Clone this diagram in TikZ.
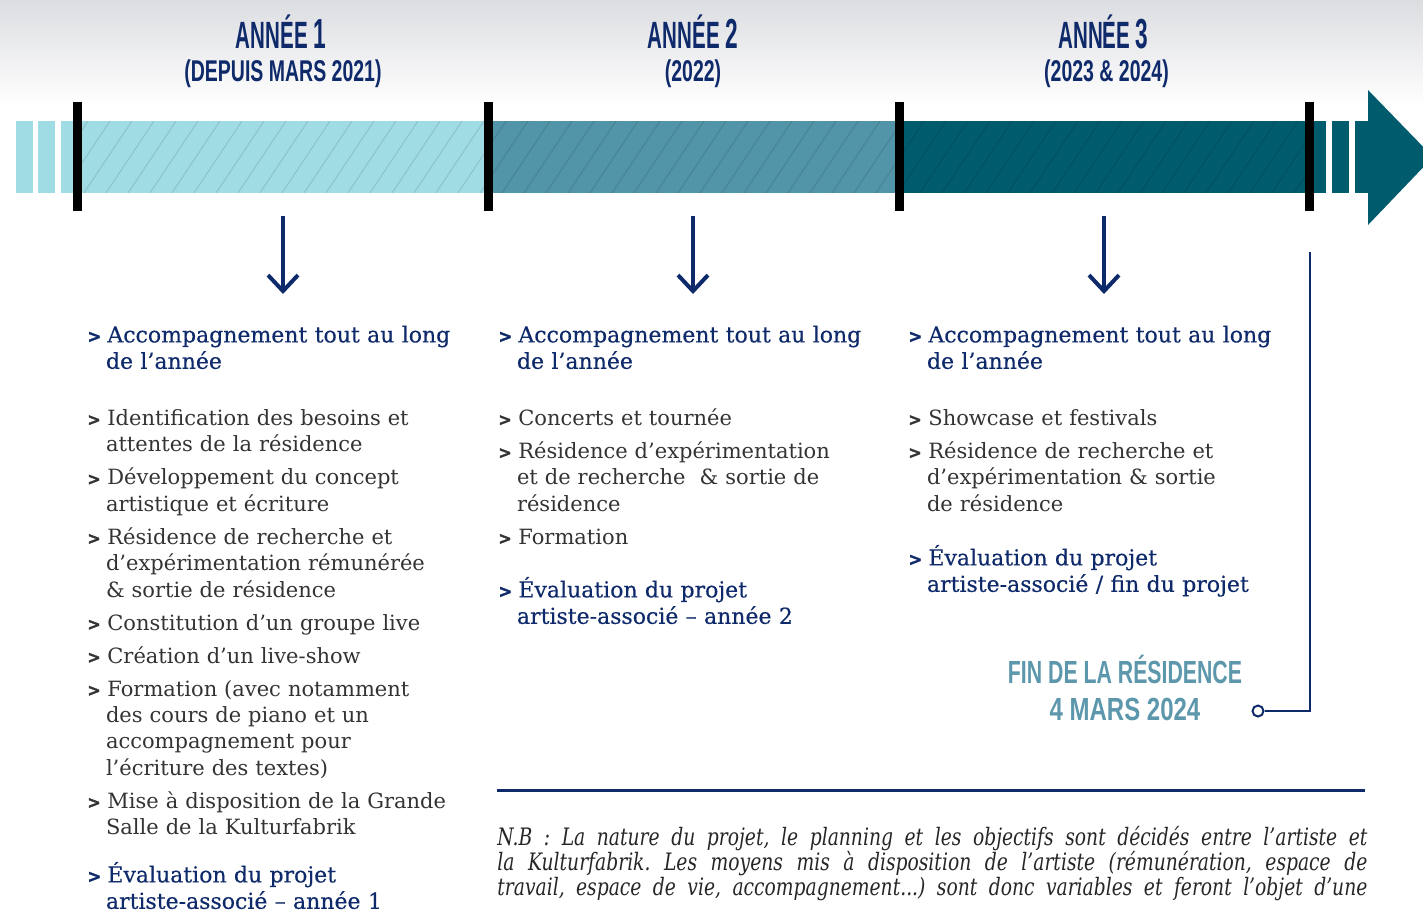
\documentclass[tikz,border=0pt]{standalone}
\usepackage{fontspec}
\setmainfont{DejaVu Serif}
\newfontfamily\accfont[FakeBold=0.35]{DejaVu Serif}
\newfontfamily\condfont[FakeStretch=0.54]{Liberation Sans}
\newfontfamily\condsub[FakeStretch=0.65]{Liberation Sans}
\newfontfamily\condfin[FakeStretch=0.665]{Liberation Sans}
\newfontfamily\conddate[FakeStretch=0.75]{Liberation Sans}
\newfontfamily\nbfont[FakeStretch=0.78]{DejaVu Serif}
\newfontfamily\gtfont[FakeBold=1.6]{DejaVu Sans}
\usepackage{xcolor}
\usetikzlibrary{positioning,arrows.meta}

\definecolor{navy}{HTML}{0F2A6A}
\definecolor{bodygray}{HTML}{333333}
\definecolor{cyanbar}{HTML}{A0DCE4}
\definecolor{midteal}{HTML}{5294A8}
\definecolor{darkteal}{HTML}{005B6D}
\definecolor{fingray}{HTML}{5C97AC}
\definecolor{bgtop}{HTML}{DCDDE1}

\newcommand\itm[1]{\par\noindent\hangindent=9.3pt\hangafter=1\makebox[10pt][l]{\scalebox{0.76}[0.8]{\gtfont\bfseries >}}#1\par\vspace{3.3pt}}

\tikzset{
  yr/.style={anchor=base, inner sep=0, text=navy, font=\condfont\bfseries\fontsize{19}{19}\selectfont},
  yrsub/.style={anchor=base, inner sep=0, text=navy, font=\condsub\bfseries\fontsize{15}{15}\selectfont},
  acc/.style={anchor=base west, inner sep=0, yshift=9pt, text width=200pt, align=left, text=navy, font=\accfont\fontsize{11}{13.2}\selectfont},
  lst/.style={anchor=base west, inner sep=0, yshift=9pt, text width=200pt, align=left, text=bodygray, font=\fontsize{10.5}{13.2}\selectfont},
  fin/.style={anchor=base, inner sep=0, text=fingray, font=\bfseries\fontsize{16}{16}\selectfont},
  sep/.style={line width=4.5pt, black},
  hatch/.style={black, opacity=0.1, line width=0.6pt},
  downarr/.style={navy, line width=2pt, -{Straight Barb[length=8pt,width=15pt]}},
  endline/.style={navy, line width=1pt},
  ring/.style={circle, draw=navy, line width=1pt, fill=white, minimum size=5.5pt, inner sep=0}
}

\begin{document}
\frenchspacing
\begin{tikzpicture}[x=0.5pt, y=-0.5pt]
\useasboundingbox (0,0) rectangle (1423,911);
\shade[top color=bgtop, bottom color=white] (0,0) rectangle (1423,105);

\node[yr] (yr1) at (281,48.5) {ANNÉE {\fontsize{21}{21}\selectfont 1}};
\node[yrsub] (yr1d) at (283,81) {(DEPUIS MARS 2021)};
\node[yr] (yr2) at (693,48.5) {ANNÉE {\fontsize{21}{21}\selectfont 2}};
\node[yrsub] (yr2d) at (693,81) {(2022)};
\node[yr] (yr3) at (1103.5,48.5) {ANNÉE {\fontsize{21}{21}\selectfont 3}};
\node[yrsub] (yr3d) at (1106.5,81) {(2023 \& 2024)};

\fill[cyanbar] (16,121) rectangle (33,193);
\fill[cyanbar] (38,121) rectangle (55,193);
\fill[cyanbar] (61,121) rectangle (488,193);
\fill[midteal] (488,121) rectangle (899,193);
\fill[darkteal] (899,121) rectangle (1326,193);
\fill[darkteal] (1331.6,121) rectangle (1348.7,193);
\fill[darkteal] (1354.7,121) rectangle (1369,193);
\fill[darkteal] (1368,90) -- (1433,157) -- (1368,225) -- cycle;
\begin{scope}
  \clip (78,121) rectangle (1309,193);
  \foreach \i in {0,...,58}
    \draw[hatch] ({40+\i*22},193) -- ++(48,-72);
\end{scope}
\foreach \x in {77.5,488,899,1309.5}
  \draw[sep] (\x,102) -- (\x,211);

\coordinate (a1) at (283,216);
\coordinate (b1) at (283,294);
\coordinate (a2) at (693,216);
\coordinate (b2) at (693,294);
\coordinate (a3) at (1104,216);
\coordinate (b3) at (1104,294);
\draw[downarr] (a1) -- (b1);
\draw[downarr] (a2) -- (b2);
\draw[downarr] (a3) -- (b3);

\node[acc] (acc1) at (87,334) {\itm{Accompagnement tout au long\newline de l’année}};
\node[lst] (lst1) at (87,417) {%
  \itm{Identification des besoins et\newline attentes de la résidence}%
  \itm{Développement du concept\newline artistique et écriture}%
  \itm{Résidence de recherche et\newline d’expérimentation rémunérée\newline \& sortie de résidence}%
  \itm{Constitution d’un groupe live}%
  \itm{Création d’un live-show}%
  \itm{Formation (avec notamment\newline des cours de piano et un\newline accompagnement pour\newline l’écriture des textes)}%
  \itm{Mise à disposition de la Grande\newline Salle de la Kulturfabrik}};
\node[acc] (ev1) at (87,874) {\itm{Évaluation du projet\newline artiste-associé – année 1}};

\node[acc] (acc2) at (498,334) {\itm{Accompagnement tout au long\newline de l’année}};
\node[lst] (lst2) at (498,417) {%
  \itm{Concerts et tournée}%
  \itm{Résidence d’expérimentation\newline et de recherche ~\& sortie de\newline résidence}%
  \itm{Formation}};
\node[acc] (ev2) at (498,589) {\itm{Évaluation du projet\newline artiste-associé – année 2}};

\node[acc] (acc3) at (908,334) {\itm{Accompagnement tout au long\newline de l’année}};
\node[lst] (lst3) at (908,417) {%
  \itm{Showcase et festivals}%
  \itm{Résidence de recherche et\newline d’expérimentation \& sortie\newline de résidence}};
\node[acc] (ev3) at (908,557) {\itm{Évaluation du projet\newline artiste-associé / fin du projet}};

\node[fin] (fin1) at (1125,683) {\condfin FIN DE LA RÉSIDENCE};
\node[fin] (fin2) at (1125,720) {\conddate 4 MARS 2024};
\coordinate (endtop) at (1310,252);
\node[ring] (dot) at (1258,711) {};
\draw[endline] (endtop) |- (dot.east);

\coordinate (hl1) at (497,790);
\coordinate (hl2) at (1365,790);
\draw[navy, line width=1.5pt] (hl1) -- (hl2);
\node[anchor=base west, inner sep=0, text width=435pt, align=justify, text=black!85,
  font=\nbfont\itshape\fontsize{12}{12.5}\selectfont] (nb) at (497,845)
  {\parfillskip=0pt N.B : La nature du projet, le planning et les objectifs sont décidés entre l’artiste et\linebreak
  la Kulturfabrik. Les moyens mis à disposition de l’artiste (rémunération, espace de\linebreak
  travail, espace de vie, accompagnement...) sont donc variables et feront l’objet d’une\par};
\end{tikzpicture}
\end{document}
